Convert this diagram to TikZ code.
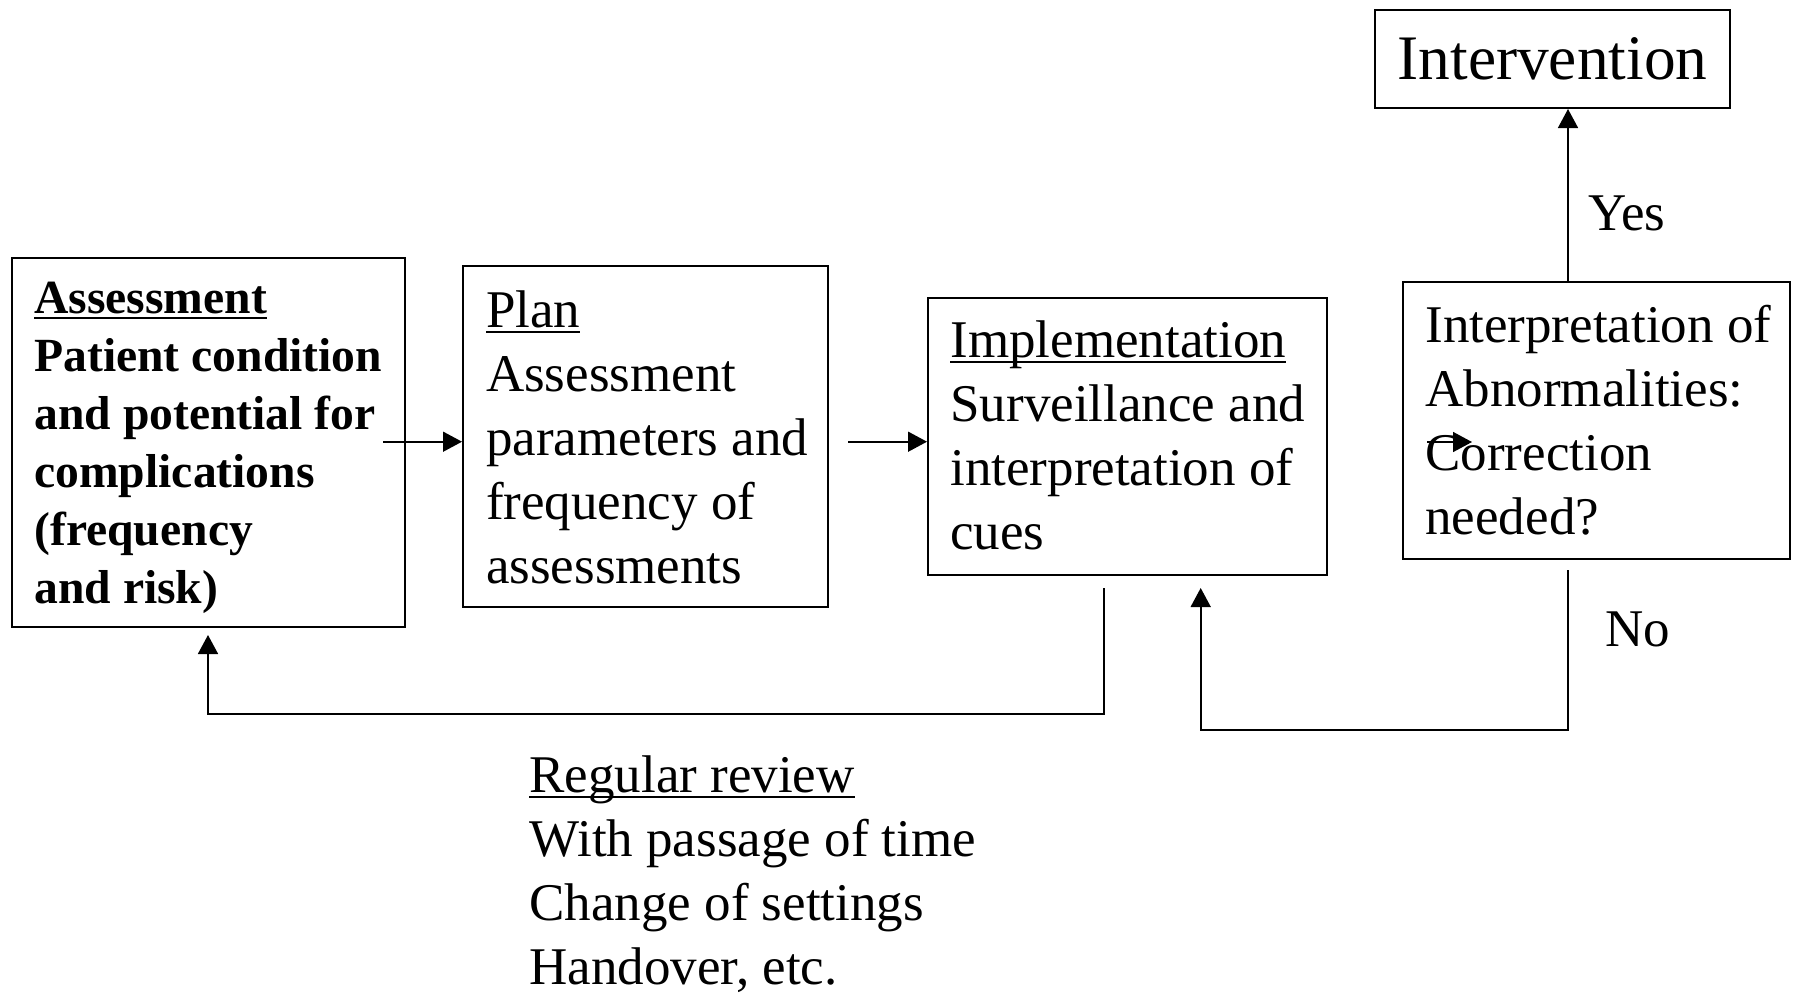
\documentclass[tikz,border=0pt]{standalone}
\usepackage{fontspec}
\setmainfont{Liberation Serif}
\usetikzlibrary{arrows.meta}
\newcommand{\ulx}[1]{\setbox0\hbox{#1}\rlap{\rule[-3pt]{\wd0}{1pt}}\box0}
\newcommand{\fst}{\rule{0pt}{21pt}}
\begin{document}
\begin{tikzpicture}[x=0.5pt,y=-0.5pt,
  box/.style={draw, line width=1pt, inner sep=0pt, rectangle},
  arr/.style={line width=0.8pt, -{Triangle[length=9.5pt,width=10pt]}},
  txt/.style={anchor=north west, inner sep=0pt, align=left, font=\fontsize{26.5pt}{32pt}\selectfont},
  btxt/.style={anchor=north west, inner sep=0pt, align=left, font=\bfseries\fontsize{23.8pt}{29pt}\selectfont},
  lbl/.style={anchor=base west, inner sep=0pt, font=\fontsize{26.5pt}{32pt}\selectfont}]
\useasboundingbox (0,0) rectangle (1794,992);

% boxes
\node[box, minimum width=196.5pt, minimum height=184.5pt] (assess) at (208.5,442.5) {};
\node[box, minimum width=182.5pt, minimum height=170.5pt] (plan) at (645.5,436.5) {};
\node[box, minimum width=199.5pt, minimum height=138.5pt] (impl) at (1127.5,436.5) {};
\node[box, minimum width=193.5pt, minimum height=138.5pt] (interp) at (1596.5,420.5) {};
\node[box, minimum width=177.5pt, minimum height=49pt, font=\fontsize{31.7pt}{38pt}\selectfont] (interv) at (1552.5,59) {Intervention};

% box texts
\node[btxt] (assesstxt) at (34,270.7) {\fst\ulx{Assessment}\\Patient condition\\and potential for\\complications\\(frequency\\and risk)};
\node[txt] (plantxt) at (485.7,284.7) {\fst\ulx{Plan}\\Assessment\\parameters and\\frequency of\\assessments};
\node[txt] (impltxt) at (950,315) {\fst\ulx{Implementation}\\Surveillance and\\interpretation of\\cues};
\node[txt] (interptxt) at (1425,300) {\fst Interpretation of\\Abnormalities:\\Correction\\needed?};

% labels
\node[lbl] (yes) at (1588,230) {Yes};
\node[lbl] (no) at (1605,646) {No};
\node[txt] (review) at (529,749.7) {\fst\ulx{Regular review}\\With passage of time\\Change of settings\\Handover, etc.};

% forward arrows
\coordinate (a1s) at (383,441.7);
\draw[arr] (a1s) -- (a1s -| plan.west);
\coordinate (a2s) at (848,441.7);
\draw[arr] (a2s) -- (a2s -| impl.west);
\coordinate (yx) at (1568,0);
\draw[arr] (yx |- interp.north) -- (yx |- interv.south);

% feedback loops
\coordinate (f1s) at (1104,588);
\coordinate (f1e) at (208,635);
\coordinate (f1y) at (0,714);
\draw[arr] (f1s) -- (f1s |- f1y) -| (f1e);
\coordinate (f2s) at (1568,570);
\coordinate (f2e) at (1200.7,588);
\coordinate (f2y) at (0,730);
\draw[arr] (f2s) -- (f2s |- f2y) -| (f2e);

% stray arrow over "Correction"
\coordinate (s1) at (1427,442);
\coordinate (s2) at (1472,442);
\draw[arr] (s1) -- (s2);
\end{tikzpicture}
\end{document}
